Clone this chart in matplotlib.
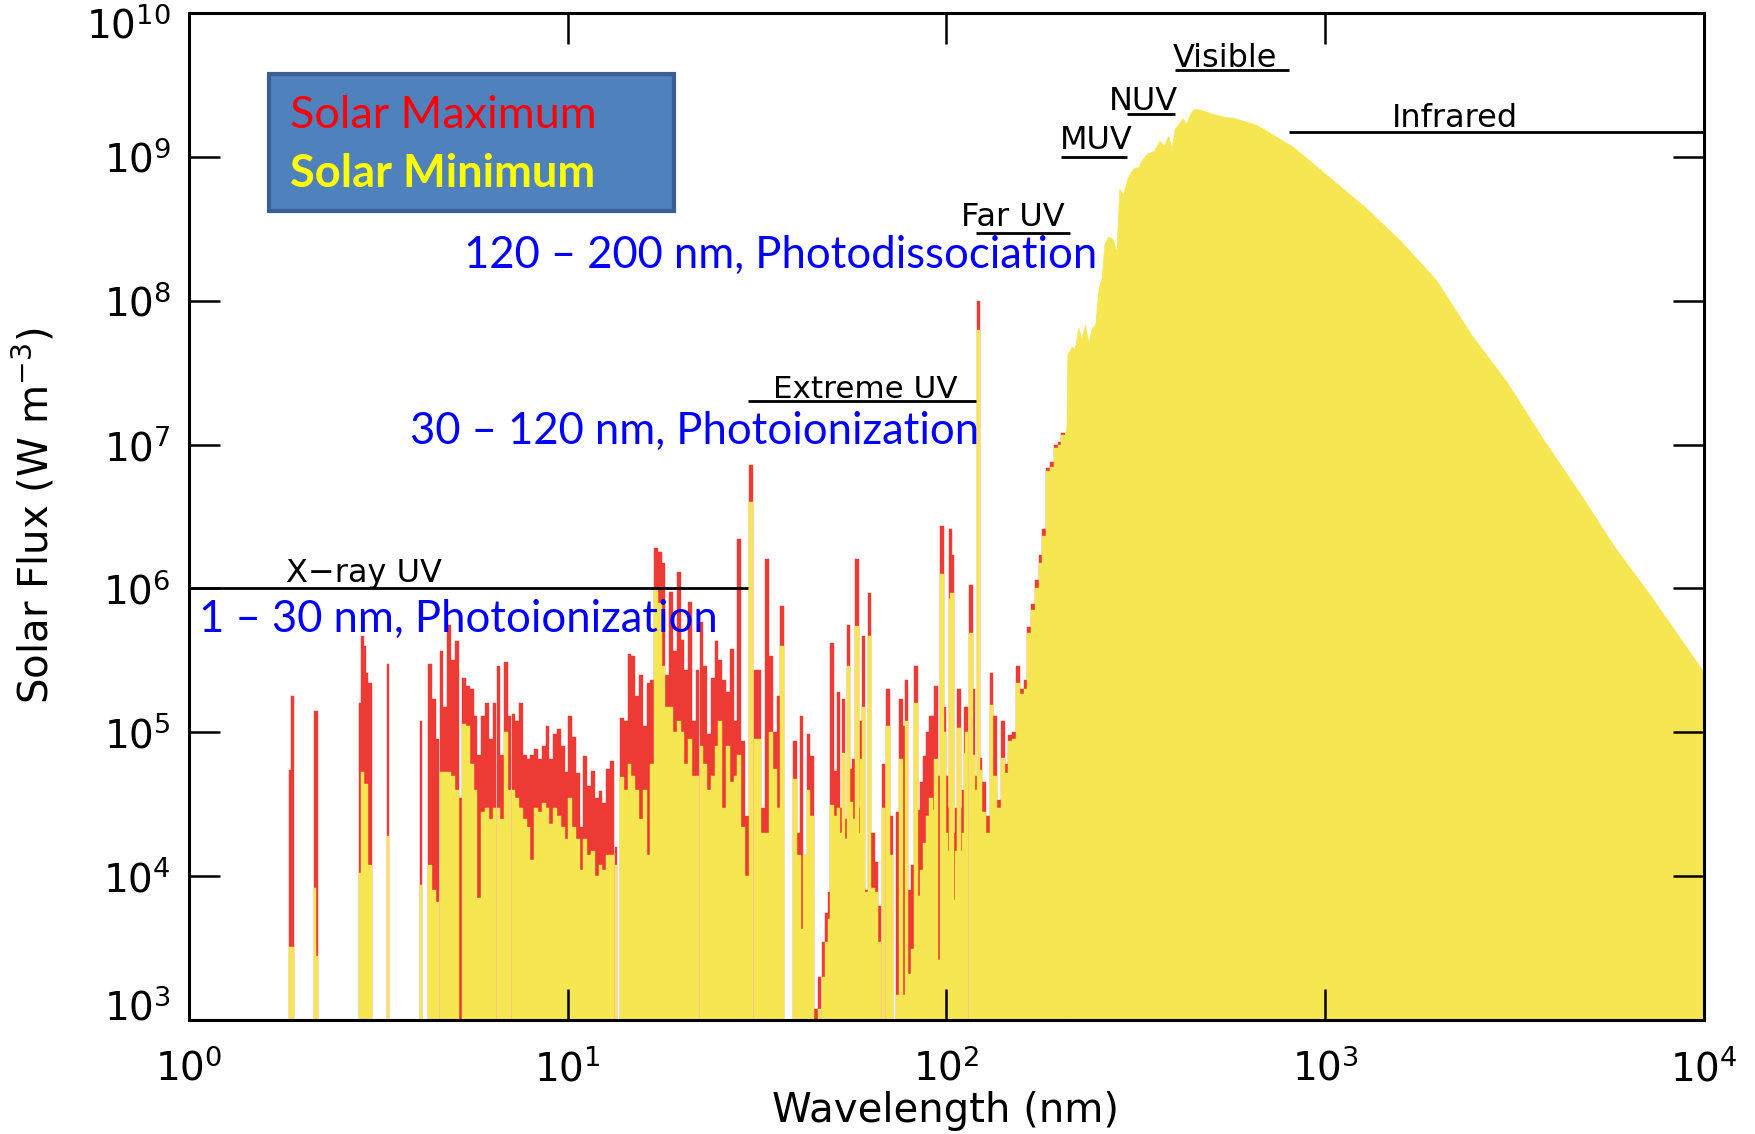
import numpy as np
import matplotlib
matplotlib.use("Agg")
import matplotlib.pyplot as plt
import matplotlib.transforms as mtrans
from matplotlib.patches import Rectangle
from matplotlib.ticker import NullLocator

# ---------------------------------------------------------------
# Solar spectral flux (W m^-3) at solar maximum / solar minimum
# ---------------------------------------------------------------

# isolated soft X-ray lines (nm)
xray_wl  = [1.855, 1.875, 2.15, 2.18, 2.83, 2.87, 2.91, 2.95, 2.99, 3.03, 3.35, 4.10, 13.4]
xray_max = [5.5e4, 1.8e5, 1.4e5, 1.4e5, 1.6e5, 4.7e5, 4.0e5, 2.6e5, 2.2e5, 2.2e5, 3.0e5, 1.2e5, 1.6e4]
xray_min = [3.2e3, 3.2e3, 8.3e3, 2.8e3, 1.05e4, 5.3e4, 4.4e4, 4.4e4, 1.2e4, 1.2e4, 1.9e4, 8.7e3, 1.2e4]

# dense soft X-ray band, 4.3 - 13.1 nm
sxr_wl = [4.33, 4.43, 4.53, 4.64, 4.75, 4.86, 4.97, 5.09, 5.21, 5.33,
          5.45, 5.58, 5.71, 5.84, 5.98, 6.12, 6.26, 6.41, 6.56, 6.71,
          6.86, 7.02, 7.19, 7.35, 7.53, 7.70, 7.88, 8.06, 8.25, 8.45,
          8.64, 8.84, 9.05, 9.26, 9.48, 9.70, 9.92, 10.15, 10.39, 10.63,
          10.88, 11.13, 11.39, 11.66, 11.93, 12.21, 12.49, 12.78, 13.08]
sxr_max = [3.0e5, 1.7e5, 9.0e4, 3.7e5, 1.5e5, 5.6e5, 3.2e5, 4.3e5, 3.5e4, 2.4e5,
           2.1e5, 2.0e5, 1.3e5, 7.0e4, 1.3e5, 1.6e5, 9.0e4, 1.6e5, 2.9e5, 7.0e4,
           3.1e5, 1.3e5, 1.35e5, 1.2e5, 1.6e5, 7.0e4, 6.5e4, 7.0e4, 7.6e4, 6.5e4,
           8.0e4, 1.1e5, 6.5e4, 9.8e4, 1.05e5, 8.0e4, 5.3e4, 1.3e5, 9.3e4, 5.2e4,
           2.2e4, 6.8e4, 4.2e4, 5.4e4, 3.5e4, 3.9e4, 3.2e4, 5.6e4, 6.3e4]
sxr_min = [1.2e4, 8.0e3, 6.6e3, 5.3e4, 5.3e4, 5.3e4, 5.0e4, 4.0e4, 0, 1.15e5,
           1.1e5, 6.0e4, 4.0e4, 7.0e3, 2.8e4, 3.0e4, 2.5e4, 3.0e4, 3.0e4, 2.5e4,
           1.0e5, 4.0e4, 4.0e4, 3.5e4, 3.0e4, 2.5e4, 2.2e4, 1.3e4, 3.0e4, 2.8e4,
           3.2e4, 3.0e4, 2.3e4, 3.0e4, 2.6e4, 2.2e4, 1.8e4, 3.5e4, 2.2e4, 1.8e4,
           1.1e4, 1.8e4, 1.4e4, 1.5e4, 1.0e4, 1.2e4, 1.1e4, 1.4e4, 1.4e4]

# dense band 13.9 - 30.4 nm (Fe lines, He II 30.4)
xuv_wl = [13.90, 14.22, 14.55, 14.89, 15.24, 15.59, 15.96, 16.33, 16.71, 17.10,
          17.50, 17.90, 18.32, 18.75, 19.18, 19.63, 20.09, 20.55, 21.03, 21.52,
          22.02, 22.54, 23.06, 23.60, 24.15, 24.71, 25.29, 25.88, 26.48, 27.10,
          27.73, 28.37, 29.03, 29.71, 30.40]
xuv_max = [1.25e5, 1.2e5, 3.5e5, 3.4e5, 1.8e5, 2.5e5, 1.1e5, 2.2e5, 2.3e5, 1.9e6,
           1.8e6, 1.5e6, 2.5e5, 9.5e5, 3.7e5, 1.3e6, 4.4e5, 2.7e5, 8.1e5, 1.2e5,
           2.7e5, 5.8e5, 2.9e5, 9.8e4, 2.4e5, 4.3e5, 3.2e5, 2.3e5, 1.9e5, 3.8e5,
           1.2e5, 2.2e6, 8.7e4, 2.6e4, 7.2e6]
xuv_min = [4.9e4, 4.0e4, 6.0e4, 5.0e4, 4.0e4, 2.5e4, 4.0e4, 1.4e4, 6.0e4, 1.0e6,
           7.9e5, 2.9e5, 1.5e5, 1.5e5, 1.0e5, 1.2e5, 1.0e5, 6.0e4, 9.0e4, 5.0e4,
           5.0e4, 8.0e4, 6.0e4, 4.0e4, 5.0e4, 8.0e4, 1.2e5, 3.0e4, 8.0e4, 4.5e4,
           5.0e4, 7.0e4, 2.2e4, 1.0e4, 4.0e6]

# extreme UV lines 31 - 44 nm
euv_wl  = [31.4, 32.1, 32.85, 33.6, 34.4, 35.2, 36.0, 36.8, 39.9, 40.7, 41.4, 42.3, 43.2, 44.1]
euv_max = [2.7e5, 2.7e5, 3.0e4, 1.6e6, 3.4e5, 1.0e5, 1.8e5, 7.6e5, 8.7e4, 2.0e4, 1.3e5, 1.4e4, 9.8e4, 6.8e4]
euv_min = [9.0e4, 9.0e4, 2.0e4, 2.0e4, 1.0e5, 5.6e4, 3.0e4, 4.0e5, 4.7e4, 1.4e4, 4.3e3, 1.4e4, 4.0e4, 2.6e4]

# 45 - 122 nm: He continuum, lines, Lyman continuum, Lyman beta / alpha
luv_wl = [45.2, 46.2, 47.3, 48.3, 49.2, 49.8, 50.8, 51.8, 52.6, 53.4,
          54.3, 55.2, 56.0, 56.8, 58.1, 59.0, 59.6, 60.4, 61.5, 62.7,
          64.0, 65.3, 66.6, 68.2, 70.0, 71.4, 74.4, 75.8, 77.4, 78.5,
          80.1, 81.5, 83.1, 84.6, 86.2, 87.8, 89.4, 91.0, 92.0, 93.8,
          95.0, 97.2, 98.6, 99.6, 100.6, 102.3, 103.5, 104.8, 106.2, 107.9,
          109.3, 110.0, 111.2, 112.1, 113.0, 116.1, 117.8, 119.3, 121.6]
luv_max = [1.2e3, 2.0e3, 3.5e3, 5.5e3, 7.8e3, 4.2e5, 5.4e4, 1.9e5, 3.0e4, 1.7e5,
           2.5e4, 5.6e5, 5.6e4, 6.5e4, 1.6e6, 3.0e4, 1.2e5, 4.7e5, 8.0e3, 9.3e5,
           2.0e4, 1.26e4, 6.2e3, 6.0e4, 2.0e5, 2.6e4, 2.8e4, 1.7e5, 1.1e5, 2.3e5,
           8.0e3, 1.2e4, 2.9e5, 2.9e4, 4.5e4, 6.8e4, 1.0e5, 1.3e5, 1.3e5, 2.1e5,
           5.0e4, 2.7e6, 1.5e5, 5.0e4, 3.0e4, 2.6e6, 1.7e6, 2.0e4, 3.0e4, 2.0e5,
           3.0e4, 2.6e4, 4.0e4, 1.5e5, 1.5e5, 1.05e6, 2.0e5, 5.0e4, 1.0e8]
luv_min = [0, 1.2e3, 2.0e3, 3.5e3, 5.0e3, 3.1e4, 2.6e4, 3.0e4, 2.0e4, 7.2e4,
           1.8e4, 2.9e5, 3.3e4, 2.5e4, 5.5e5, 2.0e4, 6.5e4, 1.5e5, 7.8e3, 4.7e5,
           8.3e3, 7.8e3, 3.5e3, 3.0e4, 1.1e5, 1.4e4, 1.5e3, 6.5e4, 1.5e3, 1.2e5,
           2.1e3, 3.1e3, 1.6e5, 7.3e3, 1.1e4, 1.7e4, 2.6e4, 3.5e4, 2.9e4, 6.5e4,
           2.6e3, 1.26e6, 1.0e5, 2.0e4, 1.5e4, 8.5e5, 9.3e5, 6.8e3, 1.5e4, 1.07e5,
           1.5e4, 1.3e4, 2.0e4, 7.2e4, 1.0e5, 4.9e5, 7.0e4, 4.0e4, 6.3e7]

# far UV 122 - 205 nm
fuv_wl = [122.6, 125.5, 128.4, 131.4, 134.4, 137.5, 140.7, 144.0, 147.4, 150.8,
          154.3, 157.9, 161.6, 165.3, 169.2, 173.1, 177.1, 181.3, 185.5, 189.8,
          194.2, 198.7, 203.3]
fuv_max = [6.6e4, 4.5e4, 2.6e4, 2.6e5, 1.3e5, 3.4e4, 1.2e5, 6.0e4, 9.5e4, 1.0e5,
           2.9e5, 2.0e5, 2.3e5, 5.4e5, 7.8e5, 1.15e6, 1.7e6, 2.6e6, 6.9e6, 7.6e6,
           1.0e7, 1.05e7, 1.2e7]
fuv_min = [5.5e4, 2.8e4, 2.0e4, 1.55e5, 5.0e4, 3.0e4, 6.6e4, 5.2e4, 8.7e4, 9.0e4,
           2.2e5, 1.85e5, 2.0e5, 4.9e5, 7.1e5, 1.0e6, 1.5e6, 2.3e6, 6.5e6, 7.0e6,
           9.5e6, 1.0e7, 1.17e7]

# continuum, 205 nm - 10 um (both solar-cycle phases coincide)
cont_wl = [205.5, 207.5, 208.5, 214, 218, 223, 227, 232, 237, 242,
           247, 252, 257, 261, 267, 274, 281, 286, 293, 301,
           311, 321, 328, 338, 353, 365, 375, 385, 393, 400,
           410, 420, 430, 440, 450, 470, 500, 540, 580, 660,
           820, 1020, 1270, 1580, 1960, 2430, 3020, 3750, 4670, 5790,
           7200, 10000]
cont_flux = [1.2e7, 1.35e7, 4.2e7, 4.8e7, 4.6e7, 6.5e7, 5.4e7, 6.8e7, 5.1e7, 6.5e7,
             6.8e7, 1.2e8, 1.45e8, 2.45e8, 2.8e8, 2.7e8, 2.2e8, 6.0e8, 5.5e8, 7.2e8,
             8.3e8, 8.5e8, 9.5e8, 1.05e9, 1.1e9, 1.29e9, 1.2e9, 1.4e9, 1.15e9, 1.55e9,
             1.7e9, 1.85e9, 1.7e9, 2.0e9, 2.15e9, 2.12e9, 2.0e9, 1.9e9, 1.85e9, 1.66e9,
             1.18e9, 7.3e8, 4.5e8, 2.6e8, 1.4e8, 5.8e7, 2.7e7, 1.1e7, 4.7e6, 1.96e6,
             9.0e5, 2.6e5]

# spectral-region markers: name, start/end wavelength (nm), level (W m^-3)
band_names = ["X\u2212ray UV", "Extreme UV", "Far UV", "MUV", "NUV", "Visible", "Infrared"]
band_lo    = [1.0, 30.0, 120.0, 200.0, 300.0, 400.0, 800.0]
band_hi    = [30.0, 120.0, 212.0, 300.0, 400.0, 800.0, 10000.0]
band_level = [1.0e6, 2.0e7, 2.95e8, 1.0e9, 2.0e9, 4.0e9, 1.5e9]

# decade ticks
x_ticks = [1e0, 1e1, 1e2, 1e3, 1e4]
y_ticks = [1e3, 1e4, 1e5, 1e6, 1e7, 1e8, 1e9, 1e10]

# ---------------------------------------------------------------
YELLOW = "#F6E652"
RED = "#EE3A34"
FLOOR = 1.0e2

W, H = 1756, 1134
fig = plt.figure(figsize=(W / 100, H / 100), dpi=100)
fig.patch.set_facecolor("white")


def fx(px):
    return px / W


def fy(py):
    return 1.0 - py / H


ax = fig.add_axes([fx(189), fy(1020), (1704 - 189) / W, (1020 - 13) / H])
ax.set_xscale("log")
ax.set_yscale("log")
ax.set_xlim(1.0, 1.0e4)
ax.set_ylim(1.0e3, 1.0e10)


def draw_bins(wl, flux, width_dex, color, z):
    wl = np.asarray(wl, float)
    flux = np.maximum(np.asarray(flux, float), FLOOR)
    lo = wl * 10 ** (-width_dex / 2)
    hi = wl * 10 ** (width_dex / 2)
    ax.bar(lo, flux - FLOOR, width=hi - lo, bottom=FLOOR, align="edge",
           color=color, edgecolor=color, linewidth=0.3, zorder=z)


groups = [
    (xray_wl, xray_max, xray_min, 0.006),
    (sxr_wl, sxr_max, sxr_min, 0.010),
    (xuv_wl, xuv_max, xuv_min, 0.010),
    (euv_wl, euv_max, euv_min, 0.010),
    (luv_wl, luv_max, luv_min, 0.009),
    (fuv_wl, fuv_max, fuv_min, 0.010),
]
# solar maximum underneath, solar minimum on top
for wl, fmax, fmin, w in groups:
    draw_bins(wl, fmax, w, RED, 1.0)
for wl, fmax, fmin, w in groups:
    draw_bins(wl, fmin, w, YELLOW, 1.5)

ax.fill_between(cont_wl, FLOOR, cont_flux, color=YELLOW, linewidth=0.5,
                edgecolor=YELLOW, zorder=1.5)

# axis styling
for s in ax.spines.values():
    s.set_linewidth(2.2)
ax.set_xticks(x_ticks)
ax.set_yticks(y_ticks)
ax.xaxis.set_minor_locator(NullLocator())
ax.yaxis.set_minor_locator(NullLocator())
ax.set_xlim(1.0, 1.0e4)
ax.set_ylim(1.0e3, 1.0e10)
ax.tick_params(which="major", direction="in", length=22.5, width=1.8,
               top=True, right=True, labelsize=28)
ax.tick_params(axis="x", pad=21)
ax.tick_params(axis="y", pad=13)

# nudge the end labels of the flux axis inward
for tick, loc in zip(ax.yaxis.get_major_ticks(), y_ticks):
    if np.isclose(loc, 1e10):
        tick.label1.set_transform(tick.label1.get_transform() +
                                  mtrans.ScaledTranslation(0, -7 / 72, fig.dpi_scale_trans))
    elif np.isclose(loc, 1e3):
        tick.label1.set_transform(tick.label1.get_transform() +
                                  mtrans.ScaledTranslation(0, 11 / 72, fig.dpi_scale_trans))

fig.text(fx(946), fy(1111), "Wavelength (nm)", fontsize=29,
         ha="center", va="center")
fig.text(fx(34), fy(516), "Solar Flux (W m$^{-3}$)", fontsize=29,
         rotation=90, ha="center", va="center")

# spectral-region markers
label_pos = [(1.80, 1.28e6), (34.8, 2.43e7), (109.0, 3.76e8), (199.0, 1.29e9),
             (268.0, 2.44e9), (396.0, 4.79e9), (1500.0, 1.86e9)]
label_size = [23, 22.3, 23, 23, 23, 23, 23]
for name, lo, hi, lev, (tx, ty), fs in zip(band_names, band_lo, band_hi, band_level,
                                           label_pos, label_size):
    ax.plot([lo, hi], [lev, lev], color="black", linewidth=2.0, zorder=4,
            solid_capstyle="butt", clip_on=False)
    ax.text(tx, ty, name, fontsize=fs, ha="left", va="center", zorder=4)

# process annotations
blue_kw = dict(fontsize=31.4, color="#0000FF", family="Lato", ha="left", va="center", zorder=6)
fig.text(fx(464), fy(255), "120 \u2013 200 nm, Photodissociation", **blue_kw)
fig.text(fx(410), fy(431), "30 \u2013 120 nm, Photoionization", **blue_kw)
fig.text(fx(199), fy(619), "1 \u2013 30 nm, Photoionization", **blue_kw)

# legend box
box = Rectangle((fx(269), fy(211)), (674 - 269) / W, (211 - 74) / H,
                transform=fig.transFigure, facecolor="#4F81BD",
                edgecolor="#3A5F94", linewidth=3.0, zorder=7)
fig.add_artist(box)
fig.text(fx(290), fy(116), "Solar Maximum", fontsize=32.4, color="#FF0000",
         family="Lato", ha="left", va="center", zorder=8)
fig.text(fx(290), fy(174), "Solar Minimum", fontsize=32.6, color="#FFFF00",
         family="Lato", fontweight="bold", ha="left", va="center", zorder=8)

fig.savefig("out.png", dpi=100)
